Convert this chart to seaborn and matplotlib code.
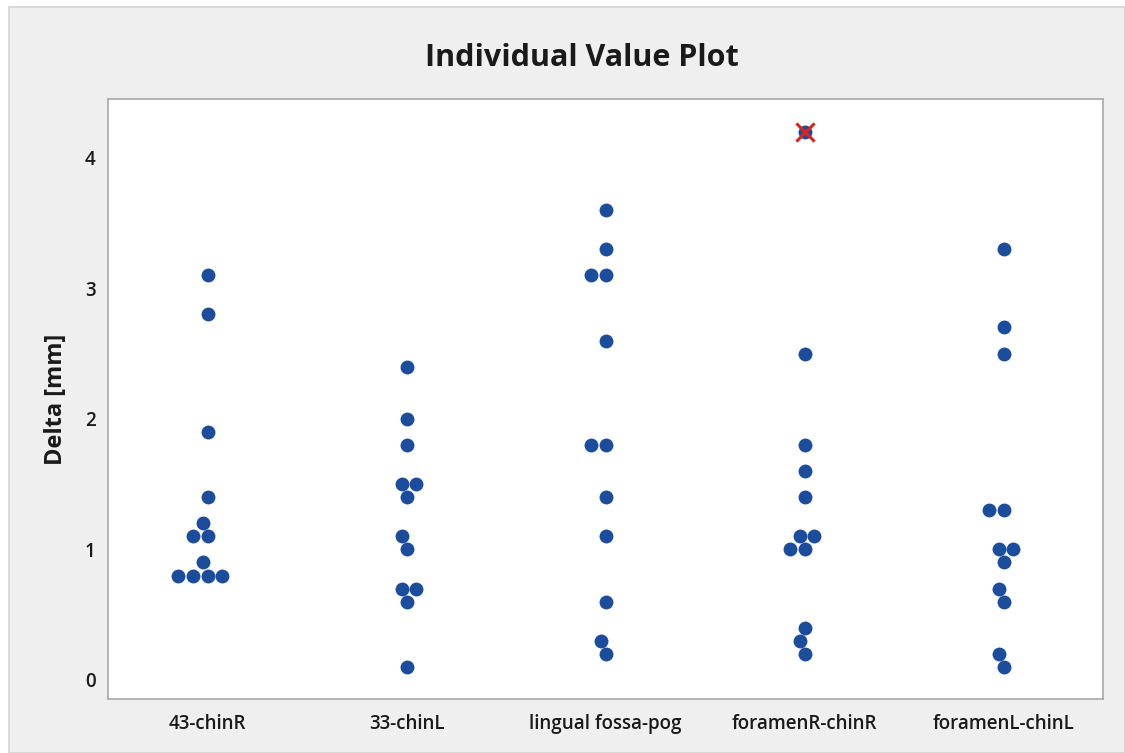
import matplotlib
matplotlib.use("Agg")
import matplotlib.pyplot as plt
from matplotlib.patches import Rectangle
import seaborn as sns
import pandas as pd

# group names (x axis)
groups = ["43-chinR", "33-chinL", "lingual fossa-pog", "foramenR-chinR", "foramenL-chinL"]

# individual values per group
chinR_43 = [3.1, 2.8, 1.9, 1.4, 1.2, 1.1, 1.1, 0.9, 0.8, 0.8, 0.8, 0.8]
chinL_33 = [2.4, 2.0, 1.8, 1.5, 1.5, 1.4, 1.1, 1.0, 0.7, 0.7, 0.6, 0.1]
fossa_pog = [3.6, 3.3, 3.1, 3.1, 2.6, 1.8, 1.8, 1.4, 1.1, 0.6, 0.3, 0.2]
foramenR_chinR = [4.2, 2.5, 1.8, 1.6, 1.4, 1.1, 1.1, 1.0, 1.0, 0.4, 0.3, 0.2]
foramenL_chinL = [3.3, 2.7, 2.5, 1.3, 1.3, 1.0, 1.0, 0.9, 0.7, 0.6, 0.2, 0.1]

# flagged outlier
outlier_groups = ["foramenR-chinR"]
outlier_values = [4.2]

y_ticks = [0, 1, 2, 3, 4]

series = [chinR_43, chinL_33, fossa_pog, foramenR_chinR, foramenL_chinL]
df = pd.DataFrame({
    "group": [g for g, vals in zip(groups, series) for _ in vals],
    "delta": [v for vals in series for v in vals],
})

sns.set_style("white")
plt.rcParams['font.family'] = ['Open Sans', 'DejaVu Sans']

panel = "#efefef"
dot = "#1c4d9d"

fig = plt.figure(figsize=(11.25, 7.53), dpi=100)
fig.patch.set_facecolor("white")
fig.patches.append(Rectangle((9 / 1125, 0), 1 - 9 / 1125, 1 - 7 / 753,
                             transform=fig.transFigure, facecolor=panel,
                             edgecolor="#d4d4d4", linewidth=1.2, zorder=-10))

ax = fig.add_axes([108 / 1125, 54 / 753, 995 / 1125, 600 / 753])
ax.set_facecolor("white")
ax.set_zorder(1)

sns.swarmplot(data=df, x="group", y="delta", order=groups, color=dot,
              size=10, linewidth=0, ax=ax)

# red X over the outlier
xpos = [groups.index(g) for g in outlier_groups]
ax.scatter(xpos, outlier_values, marker="x", color="#e0201c", s=170,
           linewidths=2.2, zorder=5)

ax.set_xlim(-0.5, 4.5)
ax.set_ylim(-0.146, 4.45)
ax.set_yticks(y_ticks)
ax.set_yticklabels([str(t) for t in y_ticks])

for s in ax.spines.values():
    s.set_color("#a8a8a8")
    s.set_linewidth(1.2)

ax.tick_params(axis="both", direction="out", length=4, width=1,
               color="#a8a8a8", labelsize=13.5, labelcolor="#1a1a1a", pad=5)
ax.tick_params(axis="x", pad=7)
for lbl in ax.get_xticklabels() + ax.get_yticklabels():
    lbl.set_fontweight("semibold")

ax.set_xlabel("")
ax.set_ylabel("Delta [mm]", fontsize=17, fontweight="bold", color="#1a1a1a", labelpad=12)
fig.text(582 / 1125, 1 - 58 / 753, "Individual Value Plot", ha="center", va="center",
         fontsize=22, fontweight="bold", color="#1a1a1a")

fig.savefig("out.png", dpi=100, facecolor=fig.get_facecolor())
